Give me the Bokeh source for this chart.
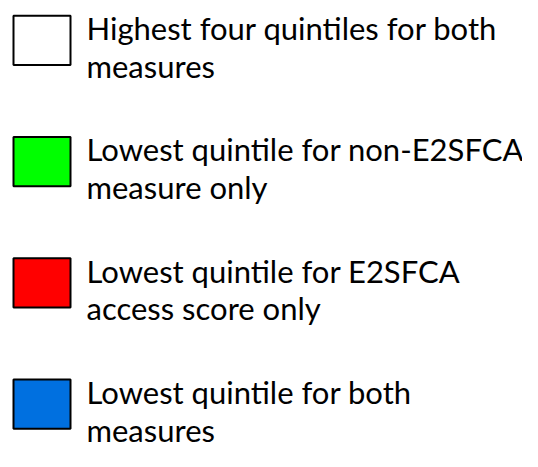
from bokeh.plotting import figure
from bokeh.models import Range1d, ColumnDataSource
from bokeh.core.properties import value
from bokeh.embed import file_html
from bokeh.resources import INLINE

# Legend entries
line1 = ["Highest four quintiles for both",
         "Lowest quintile for non-E2SFCA",
         "Lowest quintile for E2SFCA",
         "Lowest quintile for both"]
line2 = ["measures",
         "measure only",
         "access score only",
         "measures"]
colors = ["#FFFFFF", "#00FF00", "#FF0000", "#0070E0"]

# layout constants (picture pixels)
ROW0 = 16
ROW_STEP = 128
BOX_L, BOX_W, BOX_H = 13, 57, 52
TEXT_X = 86
BASE1 = 13
LINE_GAP = 40
FONT = "Lato"
FONT_SIZE = "31px"

W, H = 522, 451
p = figure(width=W, height=H, output_backend="svg", toolbar_location=None,
           x_range=Range1d(0, W), y_range=Range1d(476, 0),
           min_border=0, outline_line_color=None)
p.axis.visible = False
p.grid.visible = False
p.background_fill_color = "white"
p.border_fill_color = "white"

n = len(line1)
tops = [ROW0 + i * ROW_STEP for i in range(n)]
box = ColumnDataSource(dict(
    x=[BOX_L + BOX_W / 2] * n,
    y=[t + BOX_H / 2 for t in tops],
    c=colors))
p.rect(x="x", y="y", width=BOX_W, height=BOX_H, fill_color="c",
       line_color="black", line_width=2, source=box)

txt = ColumnDataSource(dict(
    x=[TEXT_X] * (2 * n),
    y=[t + BASE1 for t in tops] + [t + BASE1 + LINE_GAP for t in tops],
    t=line1 + line2))
p.text(x="x", y="y", text="t", source=txt, text_font=value(FONT),
       text_font_size=FONT_SIZE, text_baseline="alphabetic",
       text_align="left", text_color="black")

open("out.html", "w").write(file_html(p, INLINE))
